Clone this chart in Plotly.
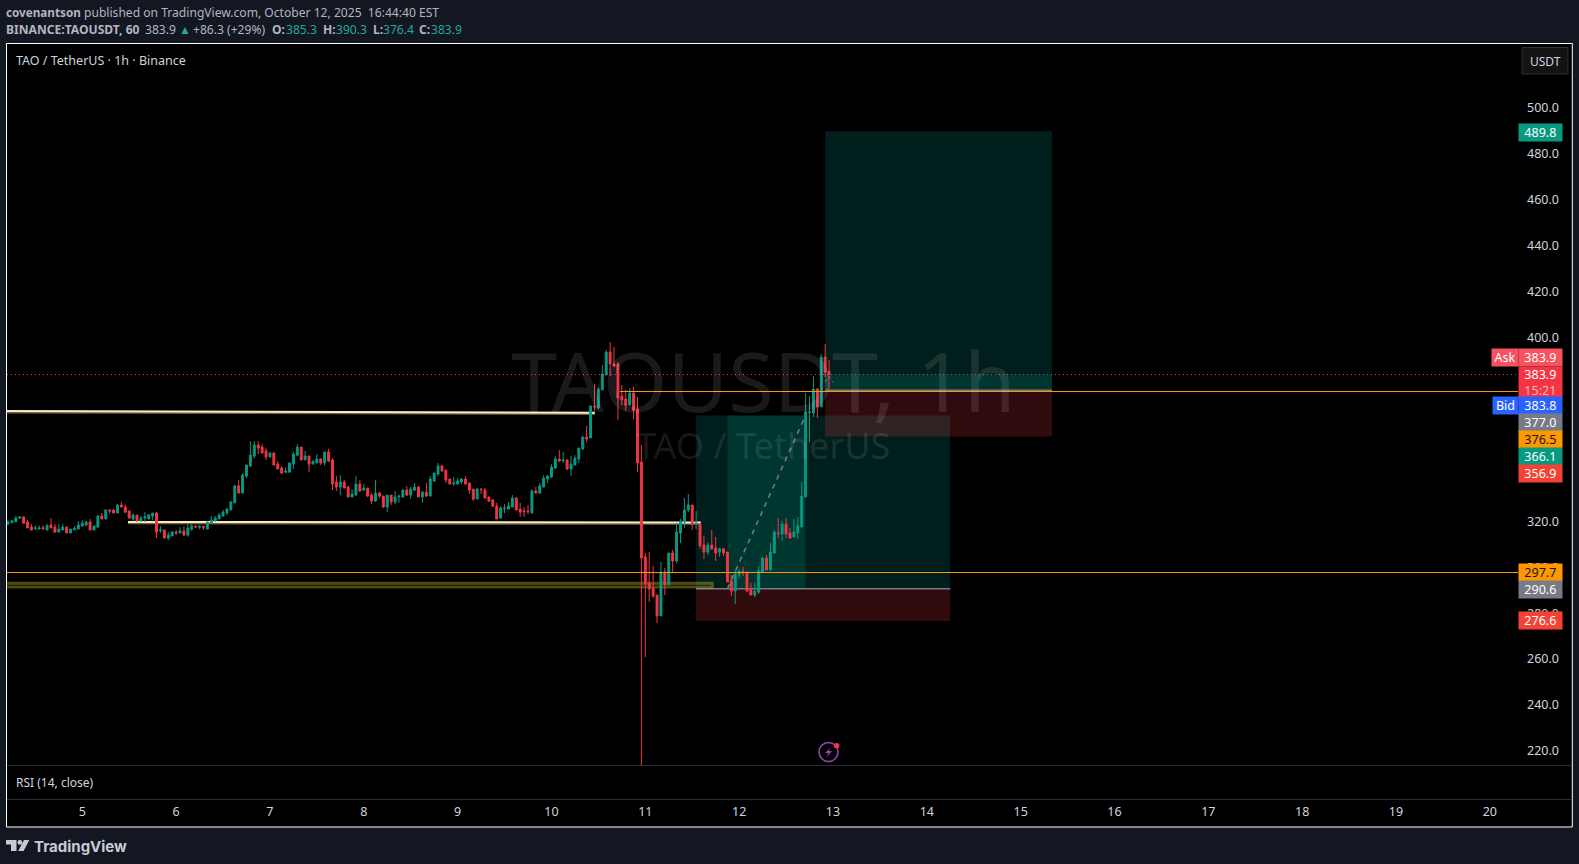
"""
TAO / TetherUS 1h chart - TradingView style snapshot rebuilt with plotly
"""

import pandas as pd
import plotly.graph_objects as go

W, H = 1579, 864

# Hourly candles, first one is Oct 4 05:00
FIRST_BAR = "2025-10-04 05:00"

opens = [
    318.8, 319.4, 319.8, 321.4, 321.9, 319.7, 317.5, 316.8, 316.8, 317.2,
    316.2, 318.4, 317.5, 315.3, 316.2, 317.5, 314.9, 316.3, 316.6, 317.9,
    318.4, 319.7, 316.2, 317.5, 322.3, 321.0, 324.9, 324.9, 323.6, 327.1,
    326.2, 324.5, 321.0, 322.7, 320.1, 321.4, 321.0, 322.3, 323.6, 315.9,
    316.2, 312.7, 313.6, 315.3, 314.9, 315.8, 314.0, 316.6, 317.9, 317.4,
    317.7, 316.6, 319.2, 320.1, 321.0, 322.3, 323.6, 324.9, 328.0, 335.4,
    332.3, 339.7, 344.1, 348.4, 353.2, 352.3, 350.6, 348.0, 349.7, 344.9,
    343.2, 341.4, 341.4, 344.9, 348.8, 352.3, 346.7, 348.4, 344.9, 345.4,
    347.1, 345.4, 350.2, 346.7, 337.1, 334.9, 337.1, 334.9, 330.6, 331.4,
    336.2, 333.6, 334.5, 331.4, 328.8, 332.3, 331.0, 326.2, 331.4, 328.4,
    330.6, 330.6, 333.6, 331.4, 333.6, 334.9, 330.6, 332.7, 331.0, 337.5,
    340.6, 344.1, 342.3, 338.4, 336.4, 336.2, 337.1, 338.4, 336.7, 334.0,
    329.7, 334.0, 333.6, 330.6, 329.3, 326.6, 321.4, 325.5, 325.3, 326.2,
    330.1, 325.3, 324.5, 324.5, 323.6, 333.2, 332.3, 334.9, 338.4, 339.3,
    343.2, 347.1, 346.4, 346.7, 342.8, 344.5, 347.1, 351.5, 356.7, 356.3,
    370.0, 369.3, 377.2, 383.7, 393.7, 388.5, 388.5, 374.5, 373.2, 370.6,
    375.8, 368.9, 345.8, 304.5, 293.1, 291.0, 287.9, 278.8, 297.9, 292.3,
    306.2, 302.7, 314.9, 319.7, 324.9, 327.1, 319.0, 319.0, 309.7, 306.6,
    309.7, 308.4, 306.6, 308.0, 306.6, 294.0, 289.6, 296.6, 298.2, 297.9,
    290.1, 287.9, 289.2, 297.9, 304.0, 298.8, 306.2, 314.9, 314.5, 318.8,
    314.9, 313.2, 314.9, 317.5, 330.6, 367.3, 367.1, 377.6, 369.8, 391.5,
    385.3,
]
highs = [
    320.5, 320.5, 322.3, 322.3, 321.9, 320.5, 318.8, 318.2, 318.2, 318.2,
    318.8, 321.4, 318.8, 318.8, 318.8, 317.8, 316.6, 317.9, 320.1, 320.5,
    320.1, 321.0, 318.2, 322.7, 323.6, 325.3, 325.3, 325.3, 327.5, 328.4,
    327.1, 324.5, 323.6, 322.7, 322.3, 324.0, 323.2, 323.6, 324.0, 317.9,
    316.2, 315.3, 315.8, 316.2, 317.5, 317.9, 319.2, 318.8, 318.1, 318.4,
    317.9, 319.7, 322.3, 322.3, 323.6, 324.9, 325.8, 328.8, 335.8, 338.0,
    341.0, 344.5, 354.9, 354.9, 354.9, 353.6, 351.9, 350.2, 350.2, 346.2,
    344.1, 343.6, 345.4, 350.2, 353.6, 352.3, 350.6, 348.4, 346.5, 349.3,
    347.5, 350.2, 351.5, 347.5, 339.7, 340.1, 338.0, 335.4, 334.0, 339.7,
    338.0, 336.2, 334.5, 332.3, 338.0, 332.7, 331.0, 331.4, 331.4, 333.2,
    331.4, 334.0, 335.4, 334.9, 336.7, 335.4, 333.2, 336.7, 339.7, 341.0,
    345.4, 344.5, 342.3, 338.4, 339.3, 338.8, 338.8, 339.7, 336.7, 334.0,
    334.5, 334.5, 334.5, 330.6, 329.7, 328.0, 326.6, 327.5, 328.4, 331.4,
    330.6, 328.0, 326.2, 327.1, 334.0, 334.9, 336.7, 340.1, 340.1, 344.9,
    348.4, 351.0, 350.2, 346.7, 348.4, 348.8, 351.9, 357.1, 361.5, 370.2,
    379.8, 378.5, 388.0, 394.6, 398.0, 395.9, 389.3, 379.3, 377.2, 378.0,
    378.5, 374.1, 353.2, 306.2, 306.6, 300.5, 287.9, 302.3, 299.7, 306.2,
    307.5, 319.3, 321.0, 330.1, 331.9, 327.1, 324.5, 319.0, 313.6, 311.0,
    316.2, 313.2, 308.4, 308.4, 306.6, 296.6, 298.4, 299.2, 300.1, 297.9,
    293.1, 293.1, 300.5, 304.5, 305.3, 310.5, 316.2, 321.4, 320.1, 321.4,
    317.1, 321.0, 321.9, 337.1, 375.8, 374.5, 383.2, 378.0, 392.8, 397.2,
    390.3,
]
lows = [
    318.4, 319.2, 319.7, 321.0, 319.2, 317.1, 316.2, 316.2, 316.2, 316.2,
    316.2, 317.1, 314.9, 315.3, 316.2, 314.9, 314.9, 316.3, 316.6, 317.9,
    317.9, 316.2, 316.2, 317.1, 321.0, 321.0, 323.2, 323.6, 323.6, 326.2,
    323.6, 321.3, 320.1, 320.1, 320.1, 319.7, 321.0, 320.5, 312.7, 314.9,
    312.7, 311.8, 313.6, 314.0, 314.9, 313.6, 313.2, 315.8, 317.5, 316.6,
    316.2, 316.6, 318.8, 320.1, 321.0, 322.3, 322.7, 324.9, 328.0, 332.3,
    332.3, 338.8, 343.6, 347.5, 349.3, 349.7, 346.7, 348.0, 344.5, 342.8,
    340.6, 341.0, 341.4, 342.8, 348.4, 346.7, 346.7, 341.4, 344.9, 345.4,
    344.5, 344.1, 345.8, 333.6, 333.2, 331.4, 334.5, 330.6, 330.6, 331.4,
    332.7, 333.2, 330.6, 327.5, 328.4, 330.1, 325.8, 324.0, 327.1, 327.5,
    328.0, 330.1, 331.0, 329.7, 333.2, 330.6, 328.0, 330.6, 331.0, 337.1,
    339.7, 341.4, 336.7, 336.2, 335.4, 336.2, 336.2, 336.2, 331.9, 328.8,
    329.7, 331.9, 330.1, 328.4, 326.2, 321.0, 321.4, 323.6, 325.3, 326.2,
    324.9, 321.9, 321.9, 323.2, 323.6, 332.3, 331.9, 334.9, 336.7, 338.8,
    342.8, 345.8, 345.4, 342.3, 339.7, 344.5, 345.4, 351.0, 354.5, 356.3,
    368.0, 368.9, 377.2, 383.7, 383.2, 387.2, 364.1, 370.6, 368.0, 370.6,
    364.5, 341.5, 213.0, 260.9, 284.9, 286.6, 275.7, 278.8, 287.9, 292.3,
    297.9, 301.8, 310.5, 317.1, 324.0, 316.2, 316.6, 308.0, 303.6, 305.3,
    307.5, 302.7, 304.5, 304.9, 293.6, 287.5, 284.0, 294.9, 296.2, 289.2,
    287.9, 287.0, 288.3, 297.9, 298.8, 298.8, 305.8, 312.7, 311.4, 312.7,
    312.3, 313.2, 312.3, 317.5, 330.6, 354.5, 365.4, 365.0, 369.8, 382.8,
    376.4,
]
closes = [
    319.7, 320.2, 321.4, 321.9, 319.2, 317.1, 316.2, 317.1, 317.1, 316.8,
    318.2, 317.1, 315.3, 316.6, 317.5, 314.9, 316.6, 316.9, 318.4, 319.2,
    319.7, 316.2, 317.9, 322.3, 321.0, 324.9, 324.5, 323.6, 327.1, 326.2,
    324.0, 321.4, 322.7, 320.1, 321.4, 321.9, 322.7, 323.6, 315.3, 316.3,
    312.7, 314.0, 315.3, 314.9, 315.8, 314.0, 317.1, 317.9, 317.5, 317.7,
    317.4, 319.7, 320.5, 321.4, 322.7, 324.0, 325.3, 328.4, 335.4, 332.3,
    340.1, 344.5, 348.8, 353.2, 351.9, 349.7, 348.0, 349.7, 344.5, 342.8,
    341.0, 341.9, 345.4, 349.3, 352.3, 346.7, 348.4, 344.9, 346.1, 347.1,
    345.4, 350.2, 346.2, 336.2, 334.9, 337.1, 334.5, 330.6, 331.9, 336.2,
    333.2, 334.5, 331.0, 328.8, 332.3, 331.0, 326.2, 331.4, 328.4, 330.6,
    331.0, 333.6, 331.4, 334.0, 334.9, 330.6, 332.7, 331.0, 338.4, 341.0,
    344.1, 341.9, 338.0, 336.2, 336.7, 337.5, 338.4, 336.2, 333.6, 329.7,
    334.0, 333.8, 330.1, 328.8, 326.6, 321.0, 325.8, 325.8, 326.6, 330.1,
    324.9, 324.0, 324.2, 324.2, 333.2, 332.3, 335.4, 338.8, 339.7, 343.6,
    347.1, 346.2, 346.7, 342.8, 344.9, 347.5, 351.9, 356.7, 355.8, 370.2,
    369.8, 377.6, 384.1, 393.7, 388.5, 387.6, 373.7, 372.8, 370.6, 375.8,
    368.4, 345.4, 304.0, 292.7, 290.5, 287.5, 278.8, 297.9, 292.3, 306.2,
    302.7, 315.3, 320.1, 324.9, 327.1, 318.8, 319.3, 309.3, 306.6, 309.7,
    308.0, 306.2, 308.0, 306.2, 293.6, 289.6, 297.1, 298.2, 297.5, 289.6,
    287.9, 289.6, 298.4, 304.0, 298.8, 306.6, 315.3, 314.6, 318.8, 314.5,
    312.7, 315.3, 318.0, 331.0, 367.6, 367.6, 377.6, 369.8, 391.5, 385.0,
    383.9,
]

# Axis ticks, 340-380 sit behind the price tags in the original
day_ticks = ["2025-10-%02d" % d for d in range(5, 21)]
day_labels = [str(d) for d in range(5, 21)]
price_ticks = [220, 240, 260, 280, 300, 320, 400, 420, 440, 460, 480, 500]

# Visible window of the chart
x_range = ["2025-10-04 04:45", "2025-10-20 07:12"]
y_range = [213.9, 527.8]

GREEN = "#089981"
RED = "#F23645"
ORANGE = "#FF9800"
GREY = "#787B86"
BLUE = "#2962FF"
CREAM = "#FFE8BE"
PAGE = "#131722"
TEXT = "#D1D4DC"
HEAD = "#B2B5BE"
TEAL = "#26A69A"
FONT = "Noto Sans"

# Long positions: left, right, target, entry, stop, fill start, fill end
long_a = ["2025-10-11 13:00", "2025-10-14 06:00", 366.1, 290.6, 276.6,
          "2025-10-11 21:00", "2025-10-12 17:00"]
long_b = ["2025-10-12 22:00", "2025-10-15 08:00", 489.8, 377.0, 356.9]


def px(x):
    return x / W


def py(y):
    return 1 - y / H


def path(points):
    return "M " + " L ".join(f"{px(x):.5f} {py(y):.5f}" for x, y in points) + " Z"


def label(x, y, text, size=12.1, color=HEAD, anchor="left", font=FONT):
    return dict(x=px(x), y=py(y), xref="paper", yref="paper", text=text, showarrow=False,
                xanchor=anchor, yanchor="middle", borderpad=0,
                font=dict(family=font, size=size, color=color))


def tag(text, y0, y1, fill, color="#FFFFFF", x0=1519, x1=1561.7):
    return dict(x=px((x0 + x1) / 2), y=py((y0 + y1) / 2), xref="paper", yref="paper",
                text=text, showarrow=False, xanchor="center", yanchor="middle",
                width=x1 - x0, height=y1 - y0, bgcolor=fill, borderpad=0,
                font=dict(family=FONT, size=12.5, color=color))


def rect(x0, x1, y0, y1, fill, layer="below"):
    return dict(type="rect", xref="x", yref="y", x0=x0, x1=x1, y0=y0, y1=y1,
                fillcolor=fill, line=dict(width=0), layer=layer)


def hline(x0, x1, y0, y1, color, width=1, dash="solid", layer="above"):
    return dict(type="line", xref="x", yref="y", x0=x0, x1=x1, y0=y0, y1=y1,
                line=dict(color=color, width=width, dash=dash), layer=layer)


bars = pd.date_range(FIRST_BAR, periods=len(opens), freq="h")

fig = go.Figure(go.Candlestick(
    x=bars, open=opens, high=highs, low=lows, close=closes,
    increasing=dict(line=dict(color=GREEN, width=1), fillcolor=GREEN),
    decreasing=dict(line=dict(color=RED, width=1), fillcolor=RED),
    whiskerwidth=0, showlegend=False, hoverinfo="skip",
))

shapes = []

# Frame of the chart, and the separators of the RSI and time strips
shapes.append(dict(type="rect", xref="paper", yref="paper", x0=px(6.5), x1=px(1572.3),
                   y0=py(827), y1=py(43.5), fillcolor="#000000",
                   line=dict(color="#FFFFFF", width=1), layer="below"))
for sep in [765.5, 799.5]:
    shapes.append(dict(type="line", xref="paper", yref="paper", x0=px(7), x1=px(1572),
                       y0=py(sep), y1=py(sep), line=dict(color="#2A2E39", width=1), layer="below"))

# Position tools
green_zone = "rgba(0,150,136,0.2)"
red_zone = "rgba(242,54,69,0.2)"
shapes.append(rect(long_a[0], long_a[1], long_a[3], long_a[2], green_zone))
shapes.append(rect(long_a[0], long_a[1], long_a[4], long_a[3], red_zone))
shapes.append(rect(long_a[5], long_a[6], long_a[3], long_a[2], green_zone))
shapes.append(rect(long_b[0], long_b[1], long_b[3], long_b[2], green_zone))
shapes.append(rect(long_b[0], long_b[1], long_b[4], long_b[3], red_zone))
shapes.append(rect(long_b[0], long_b[1], long_b[3], closes[-1], green_zone))
shapes.append(hline(long_a[0], long_a[1], long_a[3], long_a[3], GREY, 1.5, layer="below"))
shapes.append(hline(long_b[0], long_b[1], long_b[3], long_b[3], GREY, 1.5, layer="below"))
shapes.append(hline(long_a[5], long_a[6], long_a[3], long_a[2], GREY, 1.5, "5px,5px", "below"))
shapes.append(hline("2025-10-12 22:00", "2025-10-12 23:00", 380.8, 383.2, GREY, 1, "dot", "below"))
shapes.append(hline("2025-10-12 23:00", "2025-10-13 00:00", 383.2, 380.4, GREY, 1, "dot", "below"))

# Olive zone
shapes.append(rect(x_range[0], "2025-10-11 17:30", 290.7, 293.7, "rgba(255,235,59,0.3)"))
shapes.append(hline(x_range[0], "2025-10-11 16:48", 292.1, 292.1, "rgba(0,0,0,0.6)", 1, layer="below"))

# Cream trend lines, dark copy under them
for y_a, y_b, start, end in [(368.0, 367.3, x_range[0], "2025-10-10 11:06"),
                             (319.7, 319.5, "2025-10-05 11:42", "2025-10-11 14:13")]:
    shapes.append(hline(start, end, y_a - 0.6, y_b - 0.6, "#6B6250", 2, layer="below"))
    shapes.append(hline(start, end, y_a, y_b, CREAM, 2, layer="below"))

# Price levels
shapes.append(hline(x_range[0], x_range[1], closes[-1], closes[-1], RED, 1, "1px,3px"))
shapes.append(hline(x_range[0], x_range[1], 297.7, 297.7, ORANGE))
shapes.append(hline("2025-10-10 17:30", x_range[1], 376.5, 376.5, ORANGE))

# Lightning badge
shapes.append(dict(type="circle", xref="paper", yref="paper", x0=px(819), x1=px(838),
                   y0=py(761.5), y1=py(742.5), line=dict(color="#9C3FB8", width=1.6), layer="above"))
shapes.append(dict(type="path", xref="paper", yref="paper",
                   path=path([(831, 747), (825, 753), (828.5, 753), (826, 758), (832, 751), (828.5, 751)]),
                   fillcolor="#9C3FB8", line=dict(width=0), layer="above"))
shapes.append(dict(type="circle", xref="paper", yref="paper", x0=px(834), x1=px(839.4),
                   y0=py(748.4), y1=py(743), fillcolor=RED, line=dict(width=0), layer="above"))

# TradingView logo
logo = "#C8CAD2"
for pts in [[(6, 840), (16.5, 840), (16.5, 851), (11, 851), (11, 844.5), (6, 844.5)],
            [(24, 840), (29.3, 840), (23.6, 851), (18.2, 851)]]:
    shapes.append(dict(type="path", xref="paper", yref="paper", path=path(pts),
                       fillcolor=logo, line=dict(width=0), layer="above"))
shapes.append(dict(type="circle", xref="paper", yref="paper", x0=px(17.5), x1=px(22.3),
                   y0=py(844.8), y1=py(840), fillcolor=logo, line=dict(width=0), layer="above"))

# USDT button
shapes.append(dict(type="rect", xref="paper", yref="paper", x0=px(1522), x1=px(1568),
                   y0=py(74), y1=py(47.5), fillcolor="#131313",
                   line=dict(color="#2A2E39", width=1), layer="above"))

annotations = [
    # Watermarks
    label(763, 379, "TAOUSDT, 1h", 83, "rgba(255,255,255,0.1)", "center"),
    label(763, 445, "TAO / TetherUS", 36, "rgba(255,255,255,0.1)", "center"),

    # Publish header
    label(5, 12.5, "<b>covenantson</b>", 11.7),
    label(83, 12.5, "published on TradingView.com, October 12, 2025  16:44:40 EST"),
    label(5, 29.5, "<b>BINANCE:TAOUSDT, 60</b>"),
    label(143.5, 29.5, "383.9"),
    label(177.5, 29.5, "▲", 12, TEAL),
    label(191.5, 29.5, "+86.3 (+29%)"),
    label(271, 29.5, "<b>O:</b>"),
    label(284.5, 29.5, "385.3", color=TEAL),
    label(321.5, 29.5, "<b>H:</b>"),
    label(334.5, 29.5, "390.3", color=TEAL),
    label(371.5, 29.5, "<b>L:</b>"),
    label(381.5, 29.5, "376.4", color=TEAL),
    label(417.5, 29.5, "<b>C:</b>"),
    label(429.5, 29.5, "383.9", color=TEAL),

    # Inside the chart
    label(14.5, 60.5, "TAO / TetherUS · 1h · Binance", 12.5, TEXT),
    label(14.5, 782.5, "RSI (14, close)", 12, TEXT),
    label(1545, 61, "USDT", 12, TEXT, "center"),
    label(33, 846, "<b>TradingView</b>", 15, logo, font="Inter"),

    # Price scale tags
    tag("489.8", 124, 141, GREEN),
    tag("383.9", 349, 365.7, "#F7525F"),
    tag("Ask", 349, 365.7, "#F7525F", x0=1492, x1=1518),
    tag("383.9<br><span style='color:#FBB4BA'>15:21</span>", 366.7, 397.3, RED),
    tag("383.8", 397.3, 414, BLUE),
    tag("Bid", 397.3, 414, BLUE, x0=1493, x1=1518),
    tag("377.0", 414.3, 431, GREY),
    tag("376.5", 431.3, 448, ORANGE, "#131722"),
    tag("366.1", 448, 464.7, GREEN),
    tag("356.9", 465, 481.7, "#F44336"),
    tag("297.7", 564.3, 581, ORANGE, "#131722"),
    tag("290.6", 581.3, 598, GREY),
    tag("276.6", 612, 628.7, "#F44336"),
]

fig.update_layout(
    width=W, height=H,
    margin=dict(l=0, r=0, t=0, b=0),
    paper_bgcolor=PAGE,
    plot_bgcolor="rgba(0,0,0,0)",
    showlegend=False,
    boxgap=0.3,
    font=dict(family=FONT, size=12.5, color=TEXT),
    shapes=shapes,
    annotations=annotations,
    xaxis=dict(
        type="date", domain=[px(7), px(1518)], range=x_range,
        anchor="free", position=py(799.5),
        rangeslider=dict(visible=False),
        tickvals=day_ticks, ticktext=day_labels, tickangle=0,
        tickfont=dict(family=FONT, size=12.5, color=TEXT),
        ticks="", ticklabelstandoff=3,
        showgrid=False, zeroline=False, showline=False,
    ),
    yaxis=dict(
        domain=[py(765), py(44)], range=y_range, side="right",
        tickvals=price_ticks, tickformat=".1f",
        tickfont=dict(family=FONT, size=12.5, color=TEXT),
        ticks="", ticklabelstandoff=8,
        showgrid=False, zeroline=False, showline=False,
    ),
)

fig.write_html("out.html", config={"displayModeBar": False},
               post_script="document.body.style.margin='0';document.body.style.background='#131722';")
